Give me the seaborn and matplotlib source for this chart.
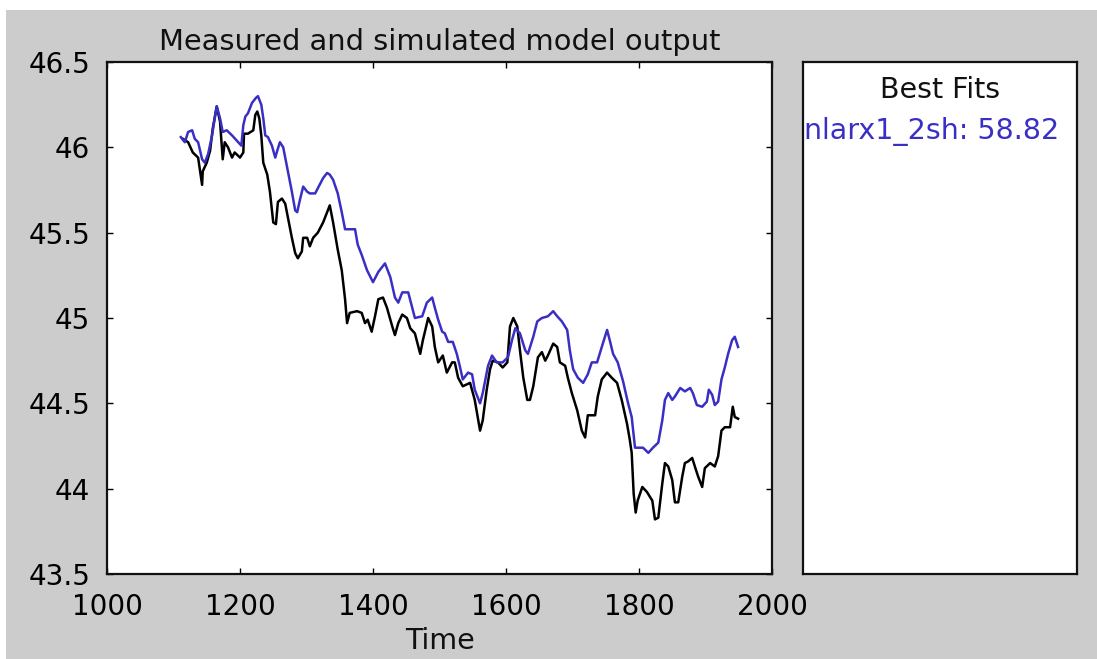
import matplotlib
matplotlib.use("Agg")
import matplotlib.pyplot as plt
import matplotlib.patches as mpatches
import seaborn as sns
import pandas as pd

# Measured output (black)
meas_time = [1114, 1122, 1129, 1137, 1143, 1144, 1150, 1155, 1159, 1165, 1170, 1174, 1177, 1182,
             1188, 1192, 1200, 1205, 1206, 1212, 1220, 1223, 1226, 1229, 1232, 1235, 1241, 1245,
             1250, 1254, 1257, 1263, 1268, 1272, 1278, 1283, 1287, 1293, 1295, 1301, 1305, 1310,
             1317, 1325, 1331, 1335, 1340, 1347, 1353, 1358, 1361, 1365, 1376, 1383, 1388, 1392,
             1398, 1403, 1408, 1415, 1421, 1429, 1433, 1438, 1444, 1451, 1456, 1463, 1471, 1475,
             1483, 1489, 1493, 1498, 1505, 1511, 1519, 1523, 1528, 1535, 1546, 1553, 1561, 1565,
             1571, 1576, 1580, 1588, 1595, 1602, 1606, 1611, 1617, 1621, 1626, 1632, 1636, 1641,
             1648, 1654, 1659, 1663, 1671, 1677, 1681, 1689, 1693, 1699, 1707, 1714, 1719, 1723,
             1734, 1738, 1744, 1752, 1759, 1767, 1774, 1782, 1786, 1789, 1792, 1795, 1798, 1805,
             1812, 1820, 1824, 1829, 1835, 1839, 1844, 1850, 1854, 1859, 1865, 1869, 1874, 1880,
             1884, 1889, 1895, 1899, 1907, 1914, 1919, 1924, 1929, 1937, 1941, 1944, 1949]
meas_value = [46.05, 46.03, 45.97, 45.94, 45.78, 45.86, 45.91, 45.98, 46.11, 46.24, 46.15, 45.93, 46.03, 46.00,
              45.94, 45.97, 45.94, 45.97, 46.08, 46.08, 46.10, 46.19, 46.21, 46.17, 46.07, 45.91, 45.84, 45.74,
              45.56, 45.55, 45.68, 45.70, 45.67, 45.59, 45.47, 45.38, 45.35, 45.39, 45.47, 45.47, 45.42, 45.47,
              45.50, 45.56, 45.62, 45.66, 45.56, 45.40, 45.28, 45.11, 44.97, 45.03, 45.04, 45.03, 44.97, 44.99,
              44.92, 45.01, 45.11, 45.12, 45.06, 44.95, 44.90, 44.97, 45.02, 45.00, 44.94, 44.91, 44.79, 44.87,
              45.00, 44.95, 44.83, 44.74, 44.78, 44.68, 44.74, 44.74, 44.65, 44.60, 44.62, 44.52, 44.34, 44.40,
              44.58, 44.70, 44.75, 44.74, 44.71, 44.74, 44.95, 45.00, 44.95, 44.81, 44.65, 44.52, 44.52, 44.60,
              44.77, 44.80, 44.75, 44.78, 44.85, 44.83, 44.74, 44.72, 44.65, 44.56, 44.46, 44.34, 44.30, 44.43,
              44.43, 44.54, 44.64, 44.68, 44.65, 44.62, 44.52, 44.38, 44.29, 44.21, 43.97, 43.86, 43.93, 44.01,
              43.98, 43.93, 43.82, 43.83, 44.03, 44.15, 44.13, 44.05, 43.92, 43.92, 44.07, 44.15, 44.16, 44.18,
              44.13, 44.07, 44.01, 44.12, 44.15, 44.13, 44.19, 44.34, 44.36, 44.36, 44.48, 44.42, 44.41]

# Simulated output (blue)
sim_time = [1111, 1117, 1122, 1128, 1132, 1137, 1143, 1147, 1152, 1158, 1162, 1165, 1170, 1174,
            1180, 1188, 1195, 1202, 1205, 1208, 1212, 1218, 1224, 1227, 1232, 1235, 1238, 1242,
            1248, 1253, 1256, 1260, 1265, 1268, 1272, 1278, 1283, 1286, 1290, 1295, 1301, 1305,
            1313, 1317, 1325, 1331, 1335, 1340, 1347, 1353, 1358, 1365, 1373, 1377, 1383, 1391,
            1400, 1408, 1418, 1426, 1433, 1438, 1444, 1453, 1459, 1463, 1474, 1481, 1489, 1493,
            1498, 1504, 1508, 1513, 1520, 1526, 1531, 1535, 1543, 1549, 1553, 1561, 1565, 1573,
            1579, 1586, 1595, 1603, 1609, 1614, 1621, 1629, 1633, 1641, 1647, 1654, 1663, 1671,
            1677, 1684, 1692, 1696, 1701, 1708, 1716, 1723, 1729, 1737, 1744, 1752, 1756, 1761,
            1768, 1776, 1783, 1789, 1794, 1798, 1806, 1814, 1821, 1829, 1835, 1839, 1844, 1850,
            1854, 1862, 1869, 1877, 1881, 1887, 1895, 1902, 1905, 1910, 1914, 1919, 1924, 1929,
            1934, 1940, 1944, 1949]
sim_value = [46.06, 46.03, 46.09, 46.10, 46.05, 46.03, 45.93, 45.91, 45.96, 46.07, 46.17, 46.24, 46.17, 46.09,
             46.10, 46.07, 46.04, 46.01, 46.13, 46.18, 46.20, 46.26, 46.29, 46.30, 46.25, 46.17, 46.07, 46.06,
             46.01, 45.94, 45.98, 46.03, 46.00, 45.94, 45.86, 45.74, 45.63, 45.62, 45.69, 45.77, 45.74, 45.73,
             45.73, 45.76, 45.82, 45.85, 45.84, 45.81, 45.73, 45.62, 45.52, 45.52, 45.52, 45.43, 45.37, 45.28,
             45.21, 45.27, 45.32, 45.24, 45.12, 45.09, 45.15, 45.15, 45.06, 45.00, 45.01, 45.09, 45.12, 45.06,
             44.99, 44.92, 44.91, 44.86, 44.86, 44.79, 44.71, 44.64, 44.68, 44.67, 44.58, 44.50, 44.56, 44.72,
             44.78, 44.74, 44.74, 44.77, 44.87, 44.94, 44.91, 44.81, 44.79, 44.89, 44.98, 45.00, 45.01, 45.04,
             45.01, 44.98, 44.93, 44.81, 44.70, 44.65, 44.62, 44.67, 44.74, 44.74, 44.83, 44.93, 44.87, 44.79,
             44.74, 44.63, 44.51, 44.42, 44.24, 44.24, 44.24, 44.21, 44.24, 44.27, 44.40, 44.52, 44.56, 44.52,
             44.54, 44.59, 44.57, 44.59, 44.56, 44.49, 44.48, 44.51, 44.58, 44.55, 44.49, 44.51, 44.64, 44.71,
             44.79, 44.87, 44.89, 44.83]

x_ticks = [1000, 1200, 1400, 1600, 1800, 2000]
y_ticks = [43.5, 44, 44.5, 45, 45.5, 46, 46.5]
y_tick_labels = ["43.5", "44", "44.5", "45", "45.5", "46", "46.5"]

title_text = "Measured and simulated model output"
xlabel_text = "Time"
legend_title = "Best Fits"
fit_label = "nlarx1_2sh: 58.82"

plt.rcParams['font.family'] = ['DejaVu Sans']

W, H = 1097, 659
fig = plt.figure(figsize=(W / 100, H / 100), dpi=100, facecolor='white')
bg = mpatches.Rectangle((6 / W, 0), 1, (H - 10) / H, transform=fig.transFigure,
                        facecolor='#cccccc', edgecolor='none', zorder=-10)
fig.patches.append(bg)

ax = fig.add_axes([107 / W, (H - 574) / H, 665 / W, 512 / H])
ax.set_facecolor('white')

meas_df = pd.DataFrame({"Time": meas_time, "y": meas_value})
sim_df = pd.DataFrame({"Time": sim_time, "y": sim_value})
sns.lineplot(data=meas_df, x="Time", y="y", ax=ax, color='black', linewidth=1.8, estimator=None)
sns.lineplot(data=sim_df, x="Time", y="y", ax=ax, color='#3a2fc4', linewidth=1.8, estimator=None)

ax.set_xlim(1000, 2000)
ax.set_ylim(43.5, 46.5)
ax.set_xticks(x_ticks)
ax.set_yticks(y_ticks)
ax.set_yticklabels(y_tick_labels)
ax.tick_params(direction='in', length=4, width=1, top=True, right=True,
               labelsize=20, colors='black')
ax.tick_params(axis='x', pad=14)
ax.tick_params(axis='y', pad=12)
for s in ax.spines.values():
    s.set_linewidth(1.6)
    s.set_color('#111111')
ax.set_title(title_text, fontsize=20.8, pad=9, color='#111111')
ax.set_xlabel(xlabel_text, fontsize=20.5, labelpad=4, color='#111111')
ax.set_ylabel("")

ax2 = fig.add_axes([803 / W, (H - 574) / H, 274 / W, 512 / H])
ax2.set_facecolor('white')
ax2.set_xticks([])
ax2.set_yticks([])
for s in ax2.spines.values():
    s.set_linewidth(1.6)
    s.set_color('#111111')
ax2.text(0.5, 0.945, legend_title, transform=ax2.transAxes, ha='center', va='center',
         fontsize=20.5, color='#111111')
ax2.text(0.005, 0.865, fit_label, transform=ax2.transAxes, ha='left', va='center',
         fontsize=20.5, color='#3a2fc4')

fig.savefig("out.png", dpi=100, facecolor=fig.get_facecolor())
